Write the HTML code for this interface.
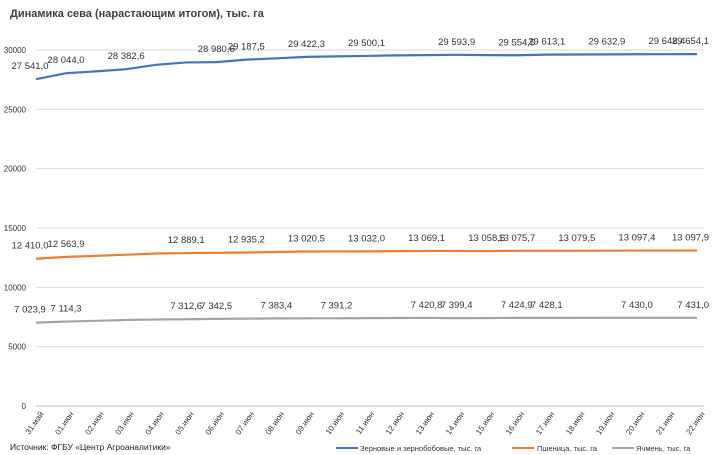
<!DOCTYPE html>
<html><head><meta charset="utf-8"><style>
body{margin:0;background:#fff;}
svg{display:block;font-family:"Liberation Sans","DejaVu Sans",sans-serif;}
</style></head><body>
<svg id="chart" width="714" height="455" viewBox="0 0 714 455">
<text x="10" y="17" font-size="11" font-weight="bold" fill="#404040">Динамика сева (нарастающим  итогом), тыс. га</text>
<g id="grid"></g><g id="yt"></g><g id="xt"></g><g id="lines"></g><g id="labels"></g>
<text x="10" y="450" font-size="8.5" fill="#222">Источник:  ФГБУ «Центр  Агроаналитики»</text>
<g>
<g><line x1="336" y1="448" x2="358" y2="448" stroke="#4472c4" stroke-width="2"/><text x="360" y="451" font-size="7.5" fill="#333">Зерновые и зернобобовые, тыс. га</text></g>
<g><line x1="512" y1="448" x2="534" y2="448" stroke="#ed7d31" stroke-width="2"/><text x="537" y="451" font-size="7.5" fill="#333">Пшеница, тыс. га</text></g>
<g><line x1="612" y1="448" x2="634" y2="448" stroke="#a5a5a5" stroke-width="2"/><text x="636" y="451" font-size="7.5" fill="#333">Ячмень, тыс. га</text></g>
</g>
</svg>
<script>
const categories=["31.май","01.июн","02.июн","03.июн","04.июн","05.июн","06.июн","07.июн","08.июн","09.июн","10.июн","11.июн","12.июн","13.июн","14.июн","15.июн","16.июн","17.июн","18.июн","19.июн","20.июн","21.июн","22.июн"];
const grain=[27541.0,28044.0,28200,28382.6,28750,28950,28980.6,29187.5,29300,29422.3,29460,29500.1,29550,29570,29593.9,29570,29554.5,29613.1,29620,29632.9,29640,29648.4,29654.1];
const wheat=[12410.0,12563.9,12650,12750,12850,12889.1,12910,12935.2,12980,13020.5,13025,13032.0,13050,13069.1,13065,13058.6,13075.7,13078,13079.5,13090,13097.4,13097.6,13097.9];
const barley=[7023.9,7114.3,7180,7250,7290,7312.6,7342.5,7360,7383.4,7388,7391.2,7405,7415,7420.8,7399.4,7410,7424.9,7428.1,7429,7429.5,7430.0,7430.5,7431.0];
const grainLabelIdx=[0,1,3,6,7,9,11,14,16,17,19,21,22];
const wheatLabelIdx=[0,1,5,7,9,11,13,15,16,18,20,22];
const barleyLabelIdx=[0,1,5,6,8,10,13,14,16,17,20,22];
const yTicks=[0,5000,10000,15000,20000,25000,30000];
const NS="http://www.w3.org/2000/svg";
const x0=36,x1=697,y0=406,yTop=50,yMaxV=30000;
const xS=i=>x0+i*(x1-x0)/(categories.length-1);
const yS=v=>y0-(v/yMaxV)*(y0-yTop);
function mk(tag,parent,attrs){const e=document.createElementNS(NS,tag);for(const k in attrs)e.setAttribute(k,attrs[k]);document.getElementById(parent).appendChild(e);return e;}
const fmt=v=>{const s=v.toFixed(1).replace('.',',');const [a,b]=s.split(',');return a.replace(/\B(?=(\d{3})+(?!\d))/g,' ')+','+b;};
yTicks.forEach(t=>{
 const l=mk('line','grid',{x1:x0,x2:704,y1:yS(t),y2:yS(t),stroke:t===0?'#bfbfbf':'#d9d9d9','stroke-width':1});
 
 
 const tx=mk('text','yt',{x:26,y:yS(t)+3,'font-size':8,fill:'#333','text-anchor':'end'});
 tx.textContent=String(t);
 
 
});
categories.forEach((c,i)=>{
 const x=xS(i)+8,y=414;
 const tx=mk('text','xt',{x:x,y:y,'font-size':8,fill:'#333','text-anchor':'end',transform:`rotate(-55 ${x} ${y})`});
 tx.textContent=c;
 
 
});
function series(vals,color,name,idx){
 const p=mk('polyline','lines',{points:vals.map((v,i)=>xS(i)+','+yS(v)).join(' '),fill:'none',stroke:color,'stroke-width':2.2});
 
 
 const last=vals.length-1;
 idx.forEach(i=>{
  let x=xS(i), anchor='middle';
  if(i===0)x=xS(0)-6;
  if(i===last){x=709;anchor='end';}
  const tx=mk('text','labels',{x:x,y:yS(vals[i])-10,'font-size':9.5,fill:'#333','text-anchor':anchor});
  tx.textContent=fmt(vals[i]);
  
  
 });
}
series(grain,'#4472c4','grain',grainLabelIdx);
series(wheat,'#ed7d31','wheat',wheatLabelIdx);
series(barley,'#a5a5a5','barley',barleyLabelIdx);
</script>
</body></html>
